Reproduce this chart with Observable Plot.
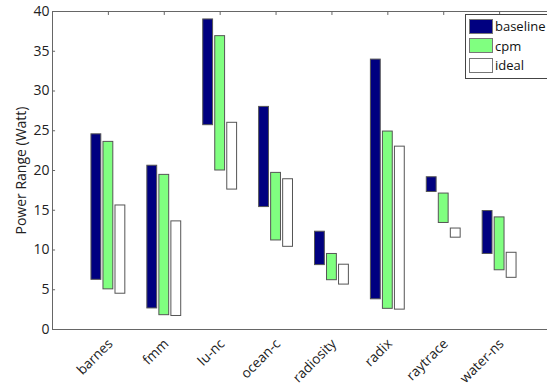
<!DOCTYPE html>
<html>
<head>
<meta charset="utf-8">
<script src="https://cdn.jsdelivr.net/npm/d3@7"></script>
<script src="https://cdn.jsdelivr.net/npm/@observablehq/plot@0.6"></script>
<style>
  html, body { margin: 0; padding: 0; background: #fff; }
  #wrap { position: relative; width: 547px; height: 387px; overflow: hidden; font-family: "Open Sans", sans-serif; }
  #legend { position: absolute; left: 465px; top: 14px; width: 100px; height: 65px; border: 1px solid #444; background: #fff; box-sizing: border-box; }
  .row { position: absolute; left: 3px; height: 16px; display: flex; align-items: center; font-size: 13px; color: #111; }
  .sw { width: 24px; height: 15px; box-sizing: border-box; border: 1px solid #777; margin-right: 2px; }
</style>
</head>
<body>
<div id="wrap"></div>
<script>
const categories = ["barnes", "fmm", "lu-nc", "ocean-c", "radiosity", "radix", "raytrace", "water-ns"];
const seriesNames = ["baseline", "cpm", "ideal"];
const seriesColors = ["#000080", "#80ff80", "#ffffff"];
const baselineLow  = [6.25, 2.65, 25.7, 15.4, 8.1, 3.8, 17.3, 9.5];
const baselineHigh = [24.55, 20.6, 39.0, 28.0, 12.3, 33.95, 19.15, 14.9];
const cpmLow       = [5.05, 1.8, 20.0, 11.2, 6.2, 2.6, 13.4, 7.45];
const cpmHigh      = [23.6, 19.45, 36.9, 19.7, 9.5, 24.9, 17.1, 14.1];
const idealLow     = [4.5, 1.7, 17.6, 10.4, 5.65, 2.5, 11.55, 6.5];
const idealHigh    = [15.6, 13.6, 26.0, 18.9, 8.15, 23.0, 12.7, 9.65];
const yTicks = [0, 5, 10, 15, 20, 25, 30, 35, 40];

const lows = [baselineLow, cpmLow, idealLow];
const highs = [baselineHigh, cpmHigh, idealHigh];
const offset = 0.215, half = 0.088;
const rows = [];
seriesNames.forEach((s, si) => {
  categories.forEach((c, ci) => {
    const pos = ci + 1 + (si - 1) * offset;
    rows.push({series: s, x1: pos - half, x2: pos + half, lo: lows[si][ci], hi: highs[si][ci]});
  });
});
const catPos = categories.map((c, i) => ({c, x: i + 1}));

const chart = Plot.plot({
  width: 547,
  height: 387,
  marginLeft: 52,
  marginTop: 11,
  marginBottom: 58,
  marginRight: 0,
  style: {fontFamily: "Open Sans, sans-serif", fontSize: "13px", color: "#222", background: "#fff"},
  x: {type: "linear", domain: [0, 9], range: [52, 555], axis: null},
  y: {domain: [0, 40]},
  color: {domain: seriesNames, range: seriesColors},
  marks: [
    Plot.rect(rows, {x1: "x1", x2: "x2", y1: "lo", y2: "hi", fill: "series", stroke: "#555", strokeWidth: 1}),
    Plot.ruleY([0, 40], {stroke: "#666", strokeWidth: 1}),
    Plot.ruleX([0], {stroke: "#666", strokeWidth: 1}),
    Plot.ruleY(yTicks, {x1: 0, x2: 0.055, stroke: "#666"}),
    Plot.ruleX(catPos, {x: "x", y1: 40, y2: 39.5, stroke: "#666"}),
    Plot.axisY(yTicks, {tickSize: 0, tickPadding: 3, fontSize: 14, label: "Power Range (Watt)", labelAnchor: "center", labelArrow: "none", labelOffset: 36}),
    Plot.text(catPos, {x: "x", y: 0, text: "c", rotate: -45, textAnchor: "end", lineAnchor: "middle", dy: 12, dx: 2, fontSize: 13.6})
  ]
});
const wrap = document.getElementById("wrap");
wrap.appendChild(chart);

const legend = document.createElement("div");
legend.id = "legend";
seriesNames.forEach((s, i) => {
  const r = document.createElement("div");
  r.className = "row";
  r.style.top = (3 + i * 19.7) + "px";
  const sw = document.createElement("div");
  sw.className = "sw";
  sw.style.background = seriesColors[i];
  r.appendChild(sw);
  const t = document.createElement("span");
  t.textContent = s;
  r.appendChild(t);
  legend.appendChild(r);
});
wrap.appendChild(legend);
</script>
</body>
</html>
